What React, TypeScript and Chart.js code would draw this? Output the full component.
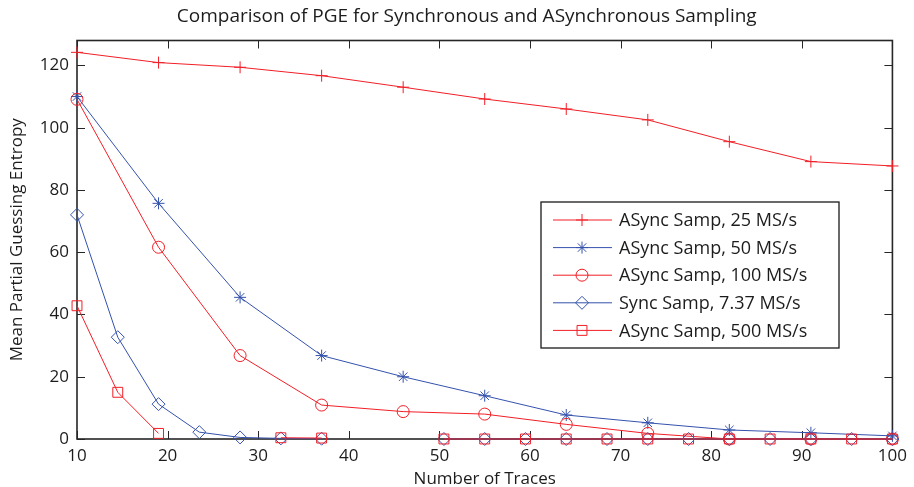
import React, { useEffect, useRef } from 'react';
import { Chart, registerables } from 'chart.js';

Chart.register(...registerables);

// ---------- data ----------
const titleText = 'Comparison of PGE for Synchronous and ASynchronous Sampling';
const xAxisTitle = 'Number of Traces';
const yAxisTitle = 'Mean Partial Guessing Entropy';

const xTickValues = [10, 20, 30, 40, 50, 60, 70, 80, 90, 100];
const yTickValues = [0, 20, 40, 60, 80, 100, 120];

const tracesCoarse = [10, 19, 28, 37, 46, 55, 64, 73, 82, 91, 100];
const tracesFine = [10, 14.5, 19, 23.5, 28, 32.5, 37, 41.5, 46, 50.5, 55, 59.5, 64, 68.5, 73, 77.5, 82, 86.5, 91, 95.5, 100];

const async25 = [124.2, 120.9, 119.4, 116.7, 113.0, 109.2, 106.0, 102.5, 95.5, 89.1, 87.7];
const async50 = [110.0, 75.7, 45.5, 26.8, 20.0, 13.9, 7.7, 5.2, 2.9, 2.0, 1.0];
const async100 = [109.1, 61.6, 26.8, 10.9, 8.8, 8.0, 4.7, 1.8, 0, 0, 0];
const sync737 = [72.0, 32.7, 11.2, 2.2, 0.5, 0.2, 0.1, null, null, 0, 0, 0, 0, 0, 0, 0, 0, 0, 0, 0, 0];
const async500 = [42.8, 15.0, 1.8, null, null, 0.4, 0.3, null, null, 0, 0, 0, 0, 0, 0, 0, 0, 0, 0, 0, 0];

const seriesLabels = [
  'ASync Samp, 25 MS/s',
  'ASync Samp, 50 MS/s',
  'ASync Samp, 100 MS/s',
  'Sync Samp, 7.37 MS/s',
  'ASync Samp, 500 MS/s',
];

// ---------- styles ----------
const FONT = '"Open Sans", sans-serif';
const TEXT = '#1c1c1c';
const AXIS = '#262626';
const RED = 'rgb(242,30,38)';
const BLUE = 'rgb(52,82,172)';

const seriesStyles = [
  { color: RED, point: 'cross', radius: 6 },
  { color: BLUE, point: 'star', radius: 6 },
  { color: RED, point: 'circle', radius: 6 },
  { color: BLUE, point: 'rectRot', radius: 6.5 },
  { color: RED, point: 'rect', radius: 7 },
];

const toPoints = (xs: number[], ys: (number | null)[]) => xs.map((x, i) => ({ x, y: ys[i] }));

function drawMarker(ctx: CanvasRenderingContext2D, style: string, x: number, y: number, r: number) {
  ctx.beginPath();
  if (style === 'cross' || style === 'star') {
    ctx.moveTo(x - r, y); ctx.lineTo(x + r, y);
    ctx.moveTo(x, y - r); ctx.lineTo(x, y + r);
    if (style === 'star') {
      const d = r * Math.SQRT1_2;
      ctx.moveTo(x - d, y - d); ctx.lineTo(x + d, y + d);
      ctx.moveTo(x - d, y + d); ctx.lineTo(x + d, y - d);
    }
  } else if (style === 'circle') {
    ctx.arc(x, y, r, 0, Math.PI * 2);
  } else if (style === 'rectRot') {
    ctx.moveTo(x - r, y); ctx.lineTo(x, y - r); ctx.lineTo(x + r, y); ctx.lineTo(x, y + r); ctx.closePath();
  } else if (style === 'rect') {
    const s = r * Math.SQRT1_2;
    ctx.rect(x - s, y - s, 2 * s, 2 * s);
  }
  ctx.stroke();
}

const axesBoxPlugin = {
  id: 'axesBox',
  beforeDatasetsDraw(chart: any) {
    const { ctx, chartArea: a, scales } = chart;
    ctx.save();
    ctx.strokeStyle = AXIS;
    ctx.lineWidth = 1;
    const tl = 8;
    ctx.beginPath();
    xTickValues.forEach((v) => {
      const px = Math.round(scales.x.getPixelForValue(v)) + 0.5;
      ctx.moveTo(px, a.bottom); ctx.lineTo(px, a.bottom - tl);
      ctx.moveTo(px, a.top); ctx.lineTo(px, a.top + tl);
    });
    yTickValues.forEach((v) => {
      const py = Math.round(scales.y.getPixelForValue(v)) + 0.5;
      ctx.moveTo(a.left, py); ctx.lineTo(a.left + tl, py);
      ctx.moveTo(a.right, py); ctx.lineTo(a.right - tl, py);
    });
    ctx.stroke();
    ctx.lineWidth = 1.6;
    ctx.strokeRect(a.left, a.top, a.right - a.left, a.bottom - a.top);
    ctx.restore();
  },
};

const titleLegendPlugin = {
  id: 'titleLegend',
  afterDraw(chart: any) {
    const { ctx, chartArea: a } = chart;
    ctx.save();
    // title
    ctx.fillStyle = TEXT;
    ctx.font = `19px ${FONT}`;
    ctx.textAlign = 'center';
    ctx.textBaseline = 'middle';
    ctx.fillText(titleText, (a.left + a.right) / 2 - 18, 17);

    // legend box
    const bx = 541, by = 202, bw = 298, bh = 146;
    ctx.fillStyle = '#ffffff';
    ctx.fillRect(bx, by, bw, bh);
    ctx.strokeStyle = '#1a1a1a';
    ctx.lineWidth = 1.3;
    ctx.strokeRect(bx, by, bw, bh);

    ctx.font = `18px ${FONT}`;
    ctx.textAlign = 'left';
    ctx.textBaseline = 'middle';
    seriesLabels.forEach((label, i) => {
      const st = seriesStyles[i];
      const y = by + 18 + i * 27.6;
      ctx.strokeStyle = st.color;
      ctx.lineWidth = 1;
      ctx.beginPath();
      ctx.moveTo(bx + 12, y); ctx.lineTo(bx + 71, y);
      ctx.stroke();
      drawMarker(ctx, st.point, bx + 41, y, st.radius);
      ctx.fillStyle = TEXT;
      ctx.fillText(label, bx + 78, y + 1);
    });
    ctx.restore();
  },
};

export default function App() {
  const canvasRef = useRef<HTMLCanvasElement | null>(null);

  useEffect(() => {
    const canvas = canvasRef.current;
    if (!canvas) return;
    const seriesData = [
      toPoints(tracesCoarse, async25),
      toPoints(tracesCoarse, async50),
      toPoints(tracesCoarse, async100),
      toPoints(tracesFine, sync737),
      toPoints(tracesFine, async500),
    ];
    const chart = new Chart(canvas, {
      type: 'line',
      data: {
        datasets: seriesData.map((data, i) => ({
          label: seriesLabels[i],
          data,
          borderColor: seriesStyles[i].color,
          borderWidth: 1,
          backgroundColor: 'rgba(0,0,0,0)',
          pointStyle: seriesStyles[i].point as any,
          pointRadius: seriesStyles[i].radius,
          pointBorderWidth: 1,
          pointBorderColor: seriesStyles[i].color,
          pointBackgroundColor: 'rgba(0,0,0,0)',
          tension: 0,
          spanGaps: false,
          fill: false,
          clip: 10,
          order: seriesData.length - i,
        })),
      },
      options: {
        animation: false,
        responsive: false,
        devicePixelRatio: 1,
        events: [],
        layout: { padding: { top: 40.5, right: 14.5, bottom: 0, left: 0 } },
        plugins: {
          legend: { display: false },
          title: { display: false },
          tooltip: { enabled: false },
        },
        scales: {
          x: {
            type: 'linear',
            min: 10,
            max: 100,
            afterBuildTicks: (scale: any) => {
              scale.ticks = xTickValues.map((value) => ({ value }));
            },
            afterFit: (scale: any) => {
              scale.height = 48;
            },
            grid: { display: false, drawTicks: false },
            border: { display: false },
            ticks: {
              color: TEXT,
              font: { family: FONT, size: 17 },
              padding: 7,
              maxRotation: 0,
              autoSkip: false,
            },
            title: {
              display: true,
              text: xAxisTitle,
              color: TEXT,
              font: { family: FONT, size: 17, lineHeight: 1 },
              padding: { top: 0, bottom: -1 },
            },
          },
          y: {
            type: 'linear',
            min: 0,
            max: 128,
            afterBuildTicks: (scale: any) => {
              scale.ticks = yTickValues.map((value) => ({ value }));
            },
            afterFit: (scale: any) => {
              scale.width = 77;
            },
            grid: { display: false, drawTicks: false },
            border: { display: false },
            ticks: {
              color: TEXT,
              font: { family: FONT, size: 17 },
              padding: 8,
              autoSkip: false,
            },
            title: {
              display: true,
              text: yAxisTitle,
              color: TEXT,
              font: { family: FONT, size: 17, lineHeight: 1 },
              padding: { top: 9, bottom: 0 },
            },
          },
        },
      },
      plugins: [axesBoxPlugin, titleLegendPlugin],
    } as any);
    return () => chart.destroy();
  }, []);

  return (
    <div style={{ position: 'fixed', left: 0, top: 0, width: 914, height: 487, background: '#fff' }}>
      <canvas ref={canvasRef} width={914} height={487} style={{ width: 914, height: 487, display: 'block' }} />
    </div>
  );
}
